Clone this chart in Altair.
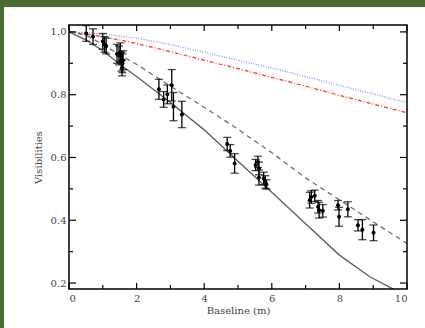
import altair as alt
import pandas as pd

# Observed visibilities
obs_x = [0.51, 0.71, 1.00, 1.05, 1.10, 1.42, 1.48, 1.52, 1.55, 1.58, 1.57, 1.60,
         2.66, 2.80, 2.91, 3.04, 3.09, 3.34, 4.68, 4.77, 4.90,
         5.52, 5.59, 5.62, 5.62, 5.76, 5.81, 5.84,
         7.12, 7.17, 7.27, 7.37, 7.40, 7.51, 7.96, 7.99, 8.25, 8.55, 8.68, 9.01]
obs_v = [0.995, 0.985, 0.970, 0.960, 0.955, 0.930, 0.925, 0.935, 0.905, 0.900, 0.885, 0.910,
         0.817, 0.785, 0.801, 0.830, 0.762, 0.737, 0.643, 0.621, 0.581,
         0.576, 0.586, 0.565, 0.536, 0.533, 0.522, 0.514,
         0.464, 0.474, 0.478, 0.443, 0.432, 0.430, 0.448, 0.411, 0.435, 0.384, 0.370, 0.360]
obs_err = [0.025, 0.025, 0.025, 0.025, 0.025, 0.030, 0.030, 0.030, 0.030, 0.030, 0.025, 0.030,
           0.032, 0.025, 0.030, 0.050, 0.045, 0.042, 0.021, 0.020, 0.031,
           0.018, 0.018, 0.020, 0.024, 0.020, 0.020, 0.015,
           0.025, 0.020, 0.018, 0.020, 0.025, 0.020, 0.015, 0.030, 0.024, 0.018, 0.032, 0.025]

# Model curves
model_x = [0, 0.5, 1, 1.6, 2, 3, 4, 5, 6, 7, 8, 8.9, 9.55, 10]
solid = [1.0, 0.975, 0.94, 0.889, 0.858, 0.775, 0.688, 0.588, 0.489, 0.389, 0.289, 0.22, 0.183, 0.16]
dashed = [1.0, 0.99, 0.96, 0.92, 0.897, 0.827, 0.76, 0.69, 0.615, 0.535, 0.465, 0.402, 0.357, 0.326]
blue = [1.0, 0.998, 0.993, 0.985, 0.98, 0.96, 0.935, 0.91, 0.885, 0.858, 0.83, 0.805, 0.787, 0.775]
red = [1.0, 0.993, 0.985, 0.972, 0.963, 0.937, 0.91, 0.883, 0.855, 0.827, 0.798, 0.773, 0.755, 0.742]

x_major = [0, 2, 4, 6, 8, 10]
x_minor = [1, 3, 5, 7, 9]
y_major = [0.2, 0.4, 0.6, 0.8, 1.0]
y_minor = [0.3, 0.5, 0.7, 0.9]

W, H = 338, 264
FONT = "DejaVu Serif"

obs = pd.DataFrame({"x": obs_x, "v": obs_v, "err": obs_err})
obs["lo"] = obs["v"] - obs["err"]
obs["hi"] = obs["v"] + obs["err"]
mod = pd.DataFrame({"x": model_x, "solid": solid, "dashed": dashed, "blue": blue, "red": red})

xs = alt.Scale(domain=[0, 10], nice=False, zero=False)
ys = alt.Scale(domain=[0.181, 1.022], nice=False, zero=False)

x_axis = alt.Axis(values=x_major, ticks=False, domain=False, grid=False,
                  labelPadding=4, titlePadding=2, format="d", zindex=2)
y_axis = alt.Axis(values=y_major, ticks=False, domain=False, grid=False,
                  labelPadding=3, titlePadding=7, format=".1f", zindex=2)

def XE(field):
    return alt.X(f"{field}:Q", scale=xs, title="Baseline (m)", axis=x_axis)

def YE(field):
    return alt.Y(f"{field}:Q", scale=ys, title="Visibilities", axis=y_axis)

one = pd.DataFrame({"a": [0]})
bg = alt.Chart(one).mark_rect(color="white", clip=False).encode(
    x=alt.value(-65), x2=alt.value(356), y=alt.value(-18), y2=alt.value(303))
frame = alt.Chart(one).mark_rect(filled=False, stroke="black", strokeWidth=1.5, clip=False).encode(
    x=alt.value(0), x2=alt.value(W), y=alt.value(0), y2=alt.value(H))

base = alt.Chart(mod)
def curve(field, color, dash, width):
    kw = dict(color=color, strokeWidth=width, clip=True)
    if dash:
        kw["strokeDash"] = dash
    return base.mark_line(**kw).encode(x=XE("x"), y=YE(field))

l_blue = curve("blue", "#8080ff", [1, 1.5], 1.2)
l_red = curve("red", "#ff3030", [4, 2, 1, 2], 1.2)
l_dash = curve("dashed", "#707070", [5, 4], 1.3)
l_solid = curve("solid", "#606060", None, 1.4)

ob = alt.Chart(obs)
bars = ob.mark_rule(color="black", strokeWidth=1.3).encode(
    x=XE("x"), y=YE("lo"), y2="hi:Q")
cap_lo = ob.mark_tick(color="black", orient="horizontal", size=8, thickness=1.3).encode(
    x=XE("x"), y=YE("lo"))
cap_hi = ob.mark_tick(color="black", orient="horizontal", size=8, thickness=1.3).encode(
    x=XE("x"), y=YE("hi"))
pts = ob.mark_circle(color="black", opacity=1, size=16).encode(x=XE("x"), y=YE("v"))

def xticks(vals, length):
    d = alt.Chart(pd.DataFrame({"t": vals}))
    b = d.mark_rule(color="black", strokeWidth=1.2).encode(
        x=XE("t"), y=alt.value(H), y2=alt.value(H - length))
    t = d.mark_rule(color="black", strokeWidth=1.2).encode(
        x=XE("t"), y=alt.value(0), y2=alt.value(length))
    return b + t

def yticks(vals, length):
    d = alt.Chart(pd.DataFrame({"t": vals}))
    l = d.mark_rule(color="black", strokeWidth=1.2).encode(
        y=YE("t"), x=alt.value(0), x2=alt.value(length))
    r = d.mark_rule(color="black", strokeWidth=1.2).encode(
        y=YE("t"), x=alt.value(W), x2=alt.value(W - length))
    return l + r

chart = alt.layer(
    bg, l_blue, l_red, l_dash, l_solid, bars, cap_lo, cap_hi, pts,
    xticks(x_major, 6), xticks(x_minor, 4), yticks(y_major, 7), yticks(y_minor, 4), frame
).properties(
    width=W, height=H,
    autosize=alt.AutoSizeParams(type="none"),
    padding={"left": 69, "top": 25, "right": 18, "bottom": 39},
    background="#4a6b2f",
).configure_view(
    stroke=None, fill="white"
).configure_axis(
    labelFont=FONT, titleFont=FONT, labelFontSize=10, titleFontSize=10,
    labelColor="#444444", titleColor="#444444", titleFontWeight="normal"
)

chart.save("out.html", embed_options={"renderer": "svg", "actions": False})
